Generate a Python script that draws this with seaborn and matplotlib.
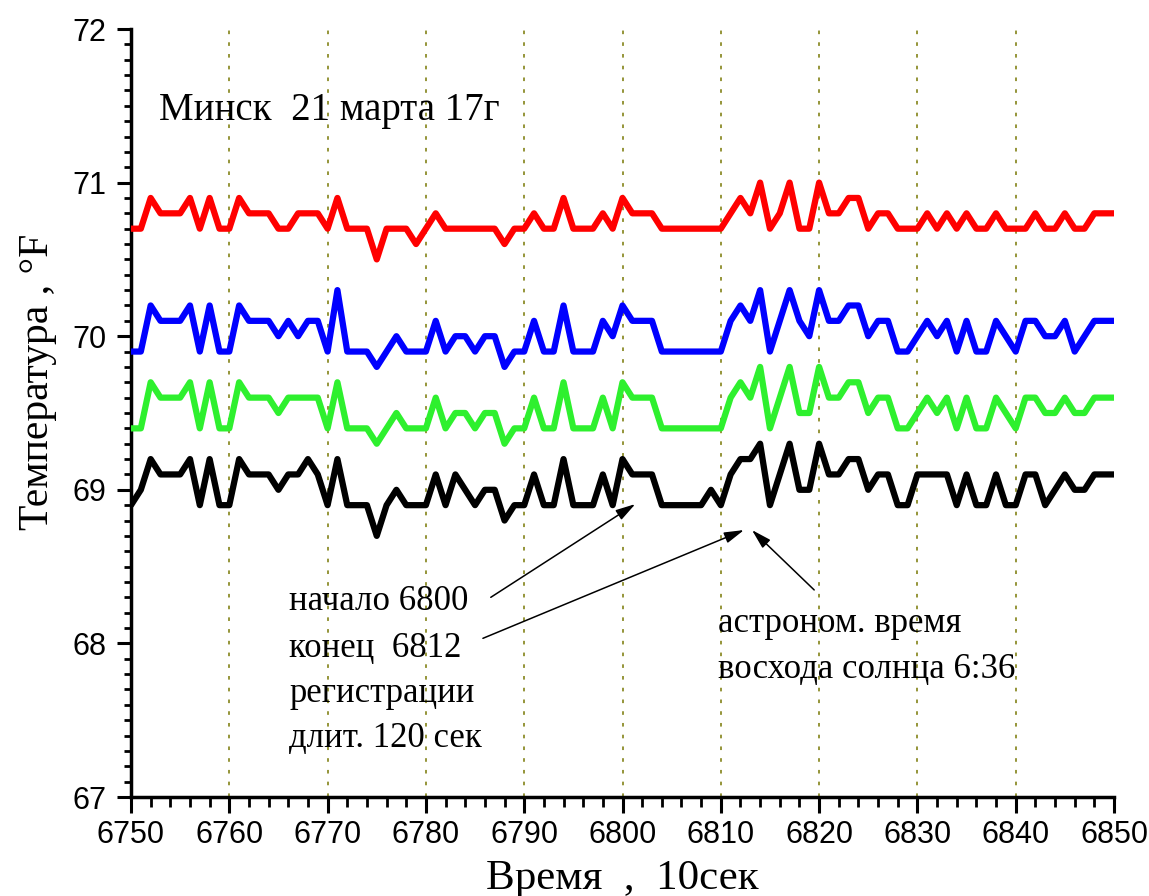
import numpy as np
import pandas as pd
import matplotlib
matplotlib.use("Agg")
import matplotlib.pyplot as plt
import seaborn as sns
from matplotlib.ticker import MultipleLocator

# ---------------- data ----------------
times = list(range(6750, 6851))

red_vals = [
    70.7, 70.7, 70.9, 70.8, 70.8, 70.8, 70.9, 70.7, 70.9, 70.7,
    70.7, 70.9, 70.8, 70.8, 70.8, 70.7, 70.7, 70.8, 70.8, 70.8,
    70.7, 70.9, 70.7, 70.7, 70.7, 70.5, 70.7, 70.7, 70.7, 70.6,
    70.7, 70.8, 70.7, 70.7, 70.7, 70.7, 70.7, 70.7, 70.6, 70.7,
    70.7, 70.8, 70.7, 70.7, 70.9, 70.7, 70.7, 70.7, 70.8, 70.7,
    70.9, 70.8, 70.8, 70.8, 70.7, 70.7, 70.7, 70.7, 70.7, 70.7,
    70.7, 70.8, 70.9, 70.8, 71.0, 70.7, 70.8, 71.0, 70.7, 70.7,
    71.0, 70.8, 70.8, 70.9, 70.9, 70.7, 70.8, 70.8, 70.7, 70.7,
    70.7, 70.8, 70.7, 70.8, 70.7, 70.8, 70.7, 70.7, 70.8, 70.7,
    70.7, 70.7, 70.8, 70.7, 70.7, 70.8, 70.7, 70.7, 70.8, 70.8,
    70.8,
]

blue_vals = [
    69.9, 69.9, 70.2, 70.1, 70.1, 70.1, 70.2, 69.9, 70.2, 69.9,
    69.9, 70.2, 70.1, 70.1, 70.1, 70.0, 70.1, 70.0, 70.1, 70.1,
    69.9, 70.3, 69.9, 69.9, 69.9, 69.8, 69.9, 70.0, 69.9, 69.9,
    69.9, 70.1, 69.9, 70.0, 70.0, 69.9, 70.0, 70.0, 69.8, 69.9,
    69.9, 70.1, 69.9, 69.9, 70.2, 69.9, 69.9, 69.9, 70.1, 70.0,
    70.2, 70.1, 70.1, 70.1, 69.9, 69.9, 69.9, 69.9, 69.9, 69.9,
    69.9, 70.1, 70.2, 70.1, 70.3, 69.9, 70.1, 70.3, 70.1, 70.0,
    70.3, 70.1, 70.1, 70.2, 70.2, 70.0, 70.1, 70.1, 69.9, 69.9,
    70.0, 70.1, 70.0, 70.1, 69.9, 70.1, 69.9, 69.9, 70.1, 70.0,
    69.9, 70.1, 70.1, 70.0, 70.0, 70.1, 69.9, 70.0, 70.1, 70.1,
    70.1,
]

green_vals = [
    69.4, 69.4, 69.7, 69.6, 69.6, 69.6, 69.7, 69.4, 69.7, 69.4,
    69.4, 69.7, 69.6, 69.6, 69.6, 69.5, 69.6, 69.6, 69.6, 69.6,
    69.4, 69.7, 69.4, 69.4, 69.4, 69.3, 69.4, 69.5, 69.4, 69.4,
    69.4, 69.6, 69.4, 69.5, 69.5, 69.4, 69.5, 69.5, 69.3, 69.4,
    69.4, 69.6, 69.4, 69.4, 69.7, 69.4, 69.4, 69.4, 69.6, 69.4,
    69.7, 69.6, 69.6, 69.6, 69.4, 69.4, 69.4, 69.4, 69.4, 69.4,
    69.4, 69.6, 69.7, 69.6, 69.8, 69.4, 69.6, 69.8, 69.5, 69.5,
    69.8, 69.6, 69.6, 69.7, 69.7, 69.5, 69.6, 69.6, 69.4, 69.4,
    69.5, 69.6, 69.5, 69.6, 69.4, 69.6, 69.4, 69.4, 69.6, 69.5,
    69.4, 69.6, 69.6, 69.5, 69.5, 69.6, 69.5, 69.5, 69.6, 69.6,
    69.6,
]

black_vals = [
    68.9, 69.0, 69.2, 69.1, 69.1, 69.1, 69.2, 68.9, 69.2, 68.9,
    68.9, 69.2, 69.1, 69.1, 69.1, 69.0, 69.1, 69.1, 69.2, 69.1,
    68.9, 69.2, 68.9, 68.9, 68.9, 68.7, 68.9, 69.0, 68.9, 68.9,
    68.9, 69.1, 68.9, 69.1, 69.0, 68.9, 69.0, 69.0, 68.8, 68.9,
    68.9, 69.1, 68.9, 68.9, 69.2, 68.9, 68.9, 68.9, 69.1, 68.9,
    69.2, 69.1, 69.1, 69.1, 68.9, 68.9, 68.9, 68.9, 68.9, 69.0,
    68.9, 69.1, 69.2, 69.2, 69.3, 68.9, 69.1, 69.3, 69.0, 69.0,
    69.3, 69.1, 69.1, 69.2, 69.2, 69.0, 69.1, 69.1, 68.9, 68.9,
    69.1, 69.1, 69.1, 69.1, 68.9, 69.1, 68.9, 68.9, 69.1, 68.9,
    68.9, 69.1, 69.1, 68.9, 69.0, 69.1, 69.0, 69.0, 69.1, 69.1,
    69.1,
]

series_names = ["red", "blue", "green", "black"]
series_colors = ["#ff0000", "#0000ff", "#2ef02e", "#000000"]

title_text = "Минск  21 марта 17г"
note_left = ["начало 6800", "конец  6812", "регистрации", "длит. 120 сек"]
note_right = ["астроном. время", "восхода солнца 6:36"]
xlabel_text = "Время  ,  10сек"
ylabel_text = "Температура , °F"

# ---------------- figure ----------------
sns.set_style("ticks")
plt.rcParams["font.family"] = ["Liberation Sans", "DejaVu Sans"]
plt.rcParams["text.color"] = "black"
plt.rcParams["axes.labelcolor"] = "black"
plt.rcParams["xtick.color"] = "black"
plt.rcParams["ytick.color"] = "black"
serif = ["Liberation Serif", "DejaVu Serif"]

fig = plt.figure(figsize=(11.49, 8.96), dpi=100)
ax = fig.add_axes([131 / 1149, 99 / 896, 983 / 1149, 768 / 896])

frames = []
for name, vals in zip(series_names, [red_vals, blue_vals, green_vals, black_vals]):
    frames.append(pd.DataFrame({"t": times, "T": vals, "series": name}))
df = pd.concat(frames, ignore_index=True)

sns.lineplot(data=df, x="t", y="T", hue="series", hue_order=series_names,
             palette=dict(zip(series_names, series_colors)), legend=False,
             linewidth=4.5, estimator=None, sort=False, ax=ax, zorder=3)

ax.set_xlim(6750, 6850)
ax.set_ylim(67, 72)
ax.xaxis.set_major_locator(MultipleLocator(10))
ax.xaxis.set_minor_locator(MultipleLocator(2))
ax.yaxis.set_major_locator(MultipleLocator(1))
ax.yaxis.set_minor_locator(MultipleLocator(0.1))

# dotted vertical grid lines at inner major ticks
for xv in ax.get_xticks():
    if 6750 < xv < 6850:
        ax.axvline(xv, color="#8c8c2a", linestyle=(0, (2.0, 4.5)), lw=1.3, zorder=1)

for s in ["top", "right"]:
    ax.spines[s].set_visible(False)
for s in ["left", "bottom"]:
    ax.spines[s].set_linewidth(2.5)
    ax.spines[s].set_color("black")

ax.tick_params(axis="x", which="major", direction="out", length=11.5, width=2.2,
               labelsize=22, pad=5, colors="black")
ax.tick_params(axis="x", which="minor", direction="out", length=7, width=2.0, colors="black")
ax.tick_params(axis="y", which="major", direction="out", length=10, width=2.2,
               labelsize=22, pad=8, colors="black")
ax.tick_params(axis="y", which="minor", direction="out", length=5, width=2.0, colors="black")

ax.set_xlabel(xlabel_text, fontsize=31, family=serif, labelpad=7, color="black")
ax.set_ylabel(ylabel_text, fontsize=30, family=serif, color="black")
ax.yaxis.set_label_coords(-0.075, 0.54)

ax.text(6752.85, 71.41, title_text, fontsize=28, family=serif, va="baseline",
        ha="left", color="black")

left_y = [68.217, 67.911, 67.618, 67.326]
for txt, yv in zip(note_left, left_y):
    ax.text(6766.1, yv, txt, fontsize=25, family=serif, va="baseline", ha="left",
            color="black")
right_y = [68.074, 67.775]
for txt, yv in zip(note_right, right_y):
    ax.text(6809.7, yv, txt, fontsize=25, family=serif, va="baseline", ha="left",
            color="black")

arrow_kw = dict(arrowstyle="-|>,head_length=0.6,head_width=0.17", lw=1.1,
                color="black", shrinkA=0, shrinkB=0, mutation_scale=20)
ax.annotate("", xy=(6801.3, 68.907), xytext=(6786.6, 68.30), arrowprops=arrow_kw)
ax.annotate("", xy=(6812.36, 68.738), xytext=(6785.8, 68.033), arrowprops=arrow_kw)
ax.annotate("", xy=(6813.17, 68.738), xytext=(6819.5, 68.348), arrowprops=arrow_kw)

fig.savefig("out.png", dpi=100)
